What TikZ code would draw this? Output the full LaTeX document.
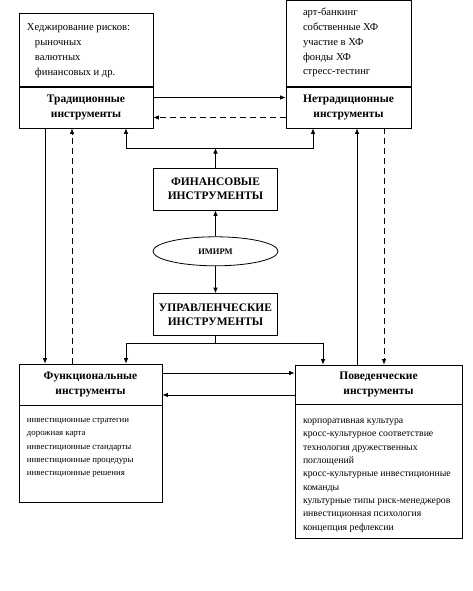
\documentclass[tikz,border=0pt]{standalone}
\usepackage{fontspec}
\setmainfont{Liberation Serif}
\usetikzlibrary{arrows.meta, positioning, shapes.geometric}
\tikzset{
  headbox/.style={draw, line width=0.8pt, align=center, inner sep=2pt, minimum height=41pt, font=\fontsize{11.5}{14.5}\selectfont\bfseries},
  toplist/.style={draw, line width=0.8pt, inner sep=0pt, font=\fontsize{10.6}{14.8}\selectfont},
  botlist/.style={draw, line width=0.8pt, inner sep=0pt, font=\fontsize{8.8}{13.4}\selectfont},
  capsbox/.style={draw, line width=0.8pt, align=center, minimum width=124pt, minimum height=42pt, font=\fontsize{11.5}{14}\selectfont\bfseries},
  oval/.style={draw, ellipse, line width=0.8pt, minimum width=125pt, minimum height=29pt, inner sep=0pt, font=\fontsize{8.5}{10}\selectfont\bfseries},
  plain/.style={line width=0.7pt},
  arrow/.style={-{Latex[length=5.5pt, width=4.5pt]}, line width=0.7pt},
  dasharrow/.style={arrow, dash pattern=on 6pt off 4pt}
}

\begin{document}
\begin{tikzpicture}[x=1pt, y=-1pt]
\useasboundingbox (0,0) rectangle (472,591);

% top row
\node[headbox, minimum width=134pt] (trad) at (86,107.5) {Традиционные\\инструменты};
\node[toplist, minimum width=134pt, above=0pt of trad] (tradlist) {\parbox[t][73pt][t]{118pt}{\raggedright
  \rule{0pt}{17.5pt}Хеджирование рисков:\\
  \hspace*{8pt}рыночных\\
  \hspace*{8pt}валютных\\
  \hspace*{8pt}финансовых и др.}};
\node[headbox, minimum width=125pt] (nontrad) at (348.5,107.5) {Нетрадиционные\\инструменты};
\node[toplist, minimum width=125pt, above=0pt of nontrad] (nontradlist) {\parbox[t][86pt][t]{91pt}{\raggedright
  \rule{0pt}{15.5pt}арт-банкинг\\
  собственные ХФ\\
  участие в ХФ\\
  фонды ХФ\\
  стресс-тестинг}};

% centre column
\node[capsbox] (fin) at (215.5,189) {ФИНАНСОВЫЕ\\ИНСТРУМЕНТЫ};
\node[oval, below=26pt of fin] (imirm) {ИМИРМ};
\node[capsbox, below=27pt of imirm] (upr) {УПРАВЛЕНЧЕСКИЕ\\ИНСТРУМЕНТЫ};

% bottom row
\node[headbox, minimum width=143pt] (func) at (90.5,384.5) {Функциональные\\инструменты};
\node[botlist, minimum width=143pt, below=0pt of func] (funclist) {\parbox[t][97pt][t]{127pt}{\raggedright
  \rule{0pt}{16.5pt}инвестиционные стратегии\\
  дорожная карта\\
  инвестиционные стандарты\\
  инвестиционные процедуры\\
  инвестиционные решения}};
\node[headbox, minimum width=167pt, minimum height=39pt] (behav) at (378.5,384.5) {Поведенческие\\инструменты};
\node[botlist, font=\fontsize{9.8}{13.35}\selectfont, minimum width=167pt, below=0pt of behav] (behavlist) {\parbox[t][134pt][t]{151pt}{\raggedright
  \rule{0pt}{18.5pt}корпоративная культура\\
  кросс-культурное соответствие\\
  технология дружественных\\
  поглощений\\
  кросс-культурные инвестиционные\\
  команды\\
  культурные типы риск-менеджеров\\
  инвестиционная психология\\
  концепция рефлексии}};

% columns and split points
\coordinate (colA) at (45,0);
\coordinate (colB) at (72,0);
\coordinate (colC) at (126,0);
\coordinate (colD) at (313,0);
\coordinate (colE) at (323,0);
\coordinate (colF) at (357,0);
\coordinate (colG) at (384,0);
\coordinate (finsplit) at (215.5,148);
\coordinate (uprsplit) at (215.5,343);

% connectors
\draw[arrow] ([yshift=10pt]trad.east) -- ([yshift=10pt]nontrad.west);
\draw[dasharrow] ([yshift=-10pt]nontrad.west) -- ([yshift=-10pt]trad.east);
\draw[arrow] ([yshift=11.5pt]func.east) -- ([yshift=11.5pt]behav.west);
\draw[arrow] ([yshift=-10.5pt]behav.west) -- ([yshift=-10.5pt]func.east);

\draw[arrow] (fin.north) -- (finsplit);
\draw[arrow] (finsplit) -| (trad.south -| colC);
\draw[arrow] (finsplit) -| (nontrad.south -| colD);
\draw[arrow] (imirm) -- (fin);
\draw[arrow] (imirm) -- (upr);
\draw[plain] (upr.south) -- (uprsplit);
\draw[arrow] (uprsplit) -| (func.north -| colC);
\draw[arrow] (uprsplit) -| (behav.north -| colE);

\draw[arrow] (trad.south -| colA) -- (func.north -| colA);
\draw[dasharrow] (func.north -| colB) -- (trad.south -| colB);
\draw[arrow] (behav.north -| colF) -- (nontrad.south -| colF);
\draw[dasharrow] (nontrad.south -| colG) -- (behav.north -| colG);
\end{tikzpicture}
\end{document}
